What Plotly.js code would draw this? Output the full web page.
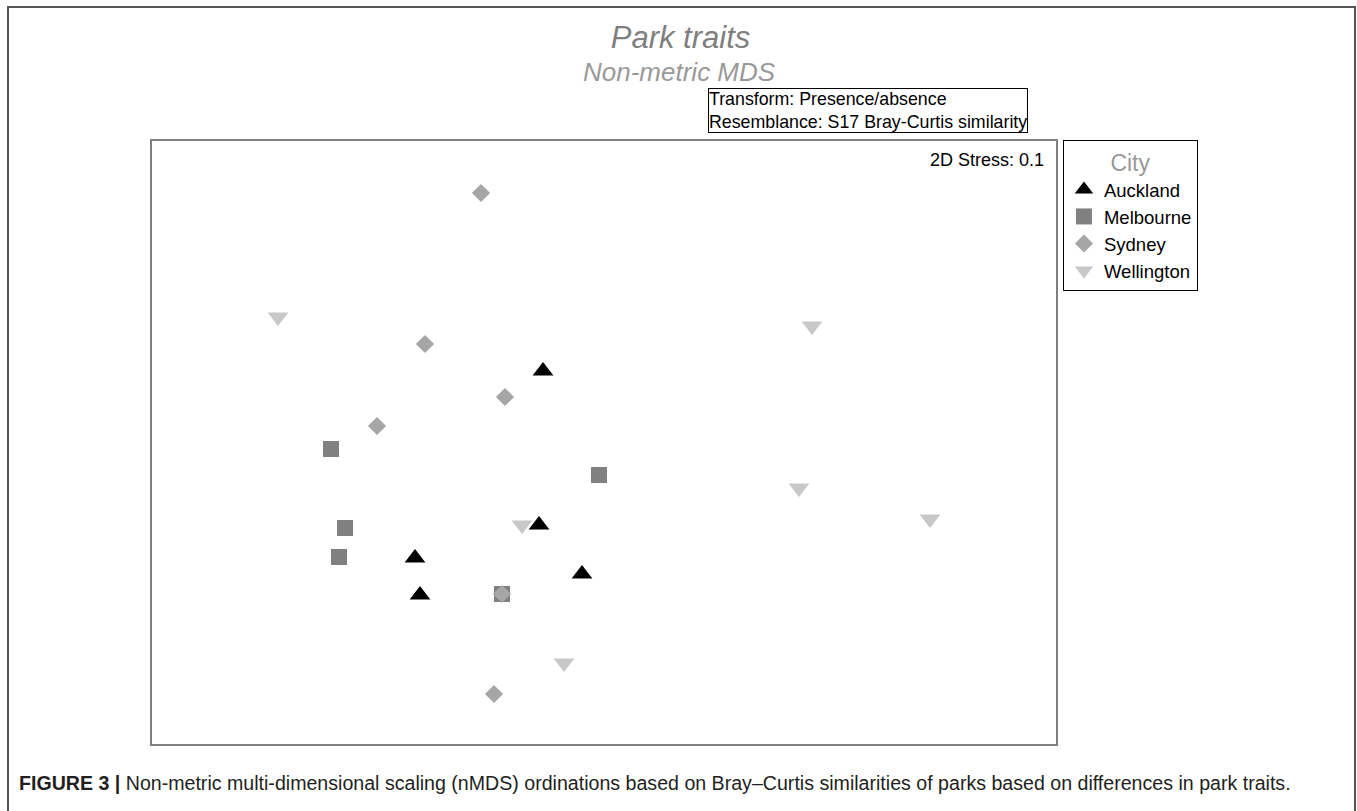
<!DOCTYPE html>
<html>
<head>
<meta charset="utf-8">
<script src="https://cdn.plot.ly/plotly-3.0.1.min.js"></script>
<style>html,body{margin:0;padding:0;background:#fff;}#chart{width:1357px;height:811px;}</style>
</head>
<body>
<div id="chart"></div>
<script>
// nMDS coordinates (arbitrary ordination units)
const cities = ["Auckland", "Melbourne", "Sydney", "Wellington"];
const aucklandX = [-0.57, -0.61, -1.85, -1.80, -0.18];
const aucklandY = [0.79, -0.75, -1.08, -1.45, -1.24];
const melbourneX = [-2.69, -0.01, -2.55, -2.61, -0.98];
const melbourneY = [0.01, -0.25, -0.78, -1.07, -1.44];
const sydneyX = [-1.19, -1.75, -0.95, -2.23, -0.98, -1.06];
const sydneyY = [2.57, 1.06, 0.53, 0.24, -1.44, -2.44];
const wellingtonX = [-3.22, 2.12, 1.99, 3.30, -0.78, -0.36];
const wellingtonY = [1.33, 1.24, -0.38, -0.69, -0.75, -2.13];

const FONT = "Arial, 'Liberation Sans', Helvetica, sans-serif";

const traces = [
  {name: cities[1], x: melbourneX, y: melbourneY, legendrank: 2,
   marker: {symbol: "square", size: 16, color: "#808080"}},
  {name: cities[2], x: sydneyX, y: sydneyY, legendrank: 3,
   marker: {symbol: "diamond", size: 14, color: "#a6a6a6"}},
  {name: cities[3], x: wellingtonX, y: wellingtonY, legendrank: 4,
   marker: {symbol: "triangle-down", size: 18, color: "#c8c8c8"}},
  {name: cities[0], x: aucklandX, y: aucklandY, legendrank: 1,
   marker: {symbol: "triangle-up", size: 18, color: "#000000"}}
].map(t => Object.assign({type: "scatter", mode: "markers", hoverinfo: "x+y+name"}, t));

const axisCommon = {showgrid: false, zeroline: false, showticklabels: false, ticks: "",
  showline: true, mirror: true, linecolor: "#7f7f7f", linewidth: 2};

const layout = {
  width: 1357, height: 811,
  margin: {l: 152, r: 301, t: 141, b: 67},
  paper_bgcolor: "#ffffff", plot_bgcolor: "#ffffff",
  font: {family: FONT, color: "#000"},
  title: {text: "Park traits", x: 0.5015, xref: "container", xanchor: "center",
          y: 1 - 37/811, yref: "container", yanchor: "middle",
          font: {size: 31, color: "#7f7f7f", style: "italic", family: FONT}},
  xaxis: Object.assign({range: [-4.48, 4.56]}, axisCommon),
  yaxis: Object.assign({range: [-2.94, 3.09]}, axisCommon),
  showlegend: true,
  legend: {x: 1.0077, xanchor: "left", y: 1.0017, yanchor: "top",
           bordercolor: "#000", borderwidth: 1, bgcolor: "#fff",
           itemwidth: 30,
           title: {text: "City", side: "top center", font: {size: 23, color: "#999999", family: FONT}},
           font: {size: 18.5, color: "#000", family: FONT}},
  annotations: [
    {text: "Non-metric MDS", xref: "paper", yref: "paper", x: 0.584, y: (744-72)/603,
     xanchor: "center", yanchor: "middle", showarrow: false,
     font: {size: 26, color: "#999999", style: "italic", family: FONT}},
    {text: "Transform: Presence/absence<br>Resemblance: S17 Bray-Curtis similarity",
     xref: "paper", yref: "paper", x: (708-152)/904, y: (744-88)/603,
     xanchor: "left", yanchor: "top", align: "left", showarrow: false,
     bordercolor: "#000", borderwidth: 1, borderpad: 0, bgcolor: "#fff",
     font: {size: 17.8, color: "#000", family: FONT}},
    {text: "2D Stress: 0.1", xref: "paper", yref: "paper", x: (1046-152)/904, y: (744-160)/603,
     xanchor: "right", yanchor: "middle", showarrow: false,
     font: {size: 18, color: "#000", family: FONT}},
    {text: "<b>FIGURE 3 |</b> Non-metric multi-dimensional scaling (nMDS) ordinations based on Bray–Curtis similarities of parks based on differences in park traits.",
     xref: "paper", yref: "paper", x: (17-152)/904, y: (744-783)/603,
     xanchor: "left", yanchor: "middle", align: "left", showarrow: false,
     font: {size: 19.6, color: "#231f20", family: FONT}}
  ],
  shapes: [
    {type: "rect", xref: "paper", yref: "paper",
     x0: (8-152)/904, x1: (1355-152)/904, y0: -0.2, y1: (744-7)/603,
     line: {color: "#555555", width: 2}, fillcolor: "rgba(0,0,0,0)", layer: "below"}
  ]
};

Plotly.newPlot("chart", traces, layout, {displayModeBar: false});
</script>
</body>
</html>
